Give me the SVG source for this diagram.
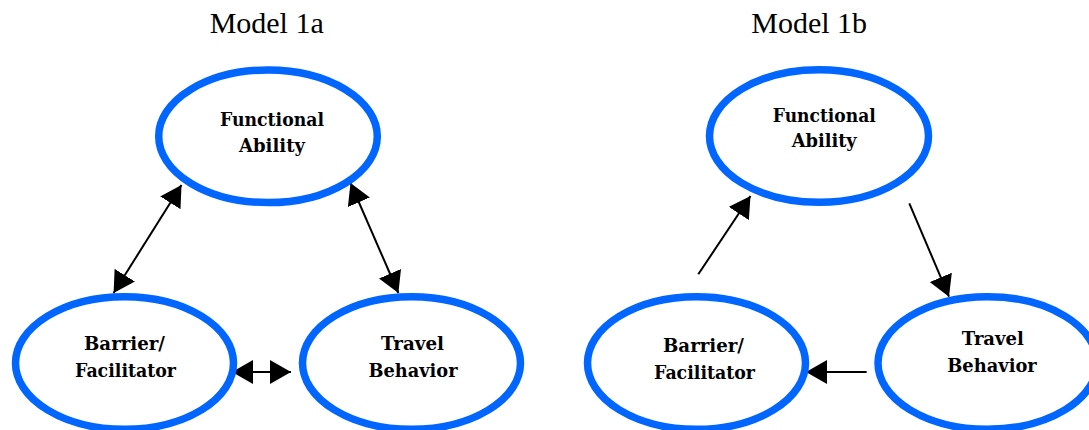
<svg xmlns="http://www.w3.org/2000/svg" width="1089" height="430" viewBox="0 0 1089 430">
  <style>
    .node ellipse { fill: #ffffff; stroke: #0066ff; stroke-width: 7.5; }
    .node text { font-family: "DejaVu Serif", "Liberation Serif", serif; font-weight: bold; font-size: 18px; fill: #000000; text-anchor: middle; }
    .title { font-family: "Liberation Serif", "DejaVu Serif", serif; font-size: 30px; fill: #000000; text-anchor: middle; }
    .conn line { stroke: #000000; stroke-width: 2; fill: none; }
  </style>
  <defs>
    <marker id="head" viewBox="0 0 21 24" refX="21" refY="12" markerWidth="21" markerHeight="24" markerUnits="userSpaceOnUse" orient="auto-start-reverse">
      <path d="M0,0 L21,12 L0,24 z" fill="#000000"/>
    </marker>
  </defs>
  <rect width="1089" height="430" fill="#ffffff"/>

  <text class="title" x="266.7" y="33.3">Model 1a</text>
  <text class="title" x="809.2" y="33.3">Model 1b</text>

  <g id="connectors" class="conn">
    <line x1="113.6" y1="293" x2="181.5" y2="185" marker-start="url(#head)" marker-end="url(#head)"/>
    <line x1="350.5" y1="183" x2="398.4" y2="293" marker-start="url(#head)" marker-end="url(#head)"/>
    <line x1="232" y1="372" x2="291" y2="372" marker-start="url(#head)" marker-end="url(#head)"/>
    <line x1="698.3" y1="274.3" x2="750.5" y2="196" marker-end="url(#head)"/>
    <line x1="909.3" y1="203.3" x2="949" y2="296.7" marker-end="url(#head)"/>
    <line x1="866.7" y1="372" x2="806" y2="372" marker-end="url(#head)"/>
  </g>

  <g id="a-functional-ability" class="node">
    <ellipse cx="268" cy="136.3" rx="109.3" ry="66.3"/>
    <text x="272" y="125.7" textLength="104" lengthAdjust="spacingAndGlyphs">Functional</text>
    <text x="272" y="152" textLength="66" lengthAdjust="spacingAndGlyphs">Ability</text>
  </g>
  <g id="a-barrier-facilitator" class="node">
    <ellipse cx="124.5" cy="363" rx="109" ry="66.3"/>
    <text x="124.5" y="350" textLength="81" lengthAdjust="spacingAndGlyphs">Barrier/</text>
    <text x="125.5" y="377" textLength="101" lengthAdjust="spacingAndGlyphs">Facilitator</text>
  </g>
  <g id="a-travel-behavior" class="node">
    <ellipse cx="411.5" cy="363" rx="109" ry="66.3"/>
    <text x="412.5" y="350" textLength="63" lengthAdjust="spacingAndGlyphs">Travel</text>
    <text x="413" y="377" textLength="89" lengthAdjust="spacingAndGlyphs">Behavior</text>
  </g>

  <g id="b-functional-ability" class="node">
    <ellipse cx="819" cy="136" rx="109.5" ry="66.3"/>
    <text x="824.3" y="121.7" textLength="103" lengthAdjust="spacingAndGlyphs">Functional</text>
    <text x="824.2" y="147.3" textLength="65" lengthAdjust="spacingAndGlyphs">Ability</text>
  </g>
  <g id="b-barrier-facilitator" class="node">
    <ellipse cx="696.5" cy="363" rx="109" ry="66.3"/>
    <text x="703.5" y="351.7" textLength="81" lengthAdjust="spacingAndGlyphs">Barrier/</text>
    <text x="704.5" y="379" textLength="101" lengthAdjust="spacingAndGlyphs">Facilitator</text>
  </g>
  <g id="b-travel-behavior" class="node">
    <ellipse cx="987.5" cy="363" rx="109.5" ry="66.3"/>
    <text x="992.8" y="345" textLength="62" lengthAdjust="spacingAndGlyphs">Travel</text>
    <text x="992" y="371.7" textLength="89.5" lengthAdjust="spacingAndGlyphs">Behavior</text>
  </g>
</svg>
